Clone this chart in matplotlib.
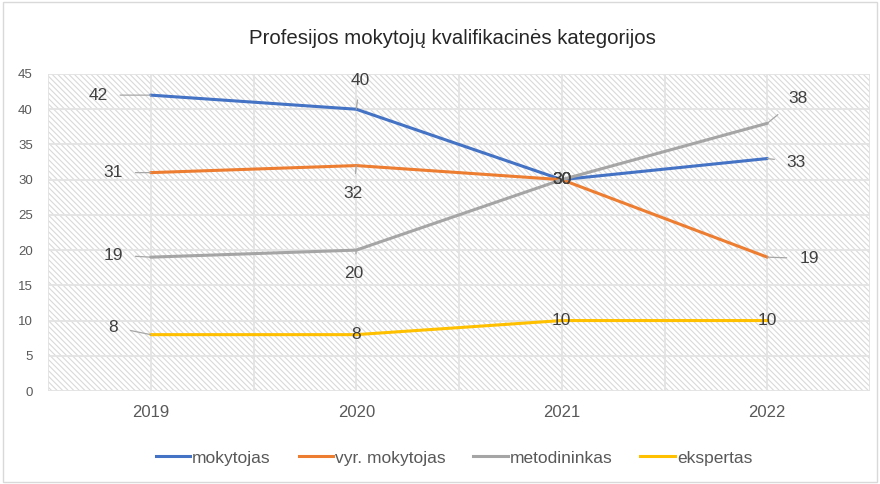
import matplotlib
matplotlib.use("Agg")
import matplotlib.pyplot as plt
from matplotlib.patches import Rectangle
from matplotlib.lines import Line2D

plt.rcParams["font.family"] = ["Liberation Sans", "DejaVu Sans"]
plt.rcParams["hatch.linewidth"] = 0.8

years = ["2019", "2020", "2021", "2022"]
series_names = ["mokytojas", "vyr. mokytojas", "metodininkas", "ekspertas"]
mokytojas = [42, 40, 30, 33]
vyr_mokytojas = [31, 32, 30, 19]
metodininkas = [19, 20, 30, 38]
ekspertas = [8, 8, 10, 10]
colors = ["#4472C4", "#ED7D31", "#A5A5A5", "#FFC000"]

# label offsets in points (dx, dy) per point; None = label centred on the point
label_offsets = [
    [(-38, 0), (3, 21), None, (21, -2.5)],
    [(-27, 0), (-2, -20), None, (30, -1)],
    [(-27, 1.5), (-1.5, -17), None, (22, 18)],
    [(-27, 5.5), None, None, None],
]

fig = plt.figure(figsize=(8.8, 4.84), dpi=100)
ax = fig.add_axes([48 / 880, 1 - 391 / 484, 822 / 880, 317 / 484])

ax.add_patch(Rectangle((0, 0), 1, 1, transform=ax.transAxes, fill=False,
                       hatch="\\\\\\\\\\\\", edgecolor="#d9d9d9", linewidth=0, zorder=0))

x = list(range(len(years)))
ax.set_xlim(-0.5, 3.5)
ax.set_ylim(0, 45)
ax.set_yticks(range(0, 46, 5))
for v in range(0, 46, 5):
    ax.axhline(v, color="#e3e3e3", lw=1.3, zorder=1)
for i in range(9):
    ax.axvline(-0.5 + i * 0.5, color="#e3e3e3", lw=1.3, zorder=1)

all_series = [mokytojas, vyr_mokytojas, metodininkas, ekspertas]
for vals, col, name in zip(all_series, colors, series_names):
    ax.plot(x, vals, color=col, lw=2.2, label=name, zorder=3, solid_capstyle="round")

for vals, offs in zip(all_series, label_offsets):
    for xi, v, off in zip(x, vals, offs):
        if off is None:
            ax.text(xi, v, str(v), ha="center", va="center", fontsize=12.5,
                    color="#404040", zorder=5)
        else:
            ax.annotate(str(v), (xi, v), xytext=off, textcoords="offset points",
                        ha="center", va="center", fontsize=12.5, color="#404040",
                        arrowprops=dict(arrowstyle="-", color="#a6a6a6", lw=0.9,
                                        shrinkA=7, shrinkB=0), zorder=5)

for s in ax.spines.values():
    s.set_visible(False)
ax.set_xticks(x)
ax.set_xticklabels(years, fontsize=12, color="#595959")
ax.tick_params(axis="x", length=0, pad=10)
ax.tick_params(axis="y", length=0, pad=11, labelsize=9.5, labelcolor="#595959")

fig.text(452 / 880, 1 - 38 / 484, "Profesijos mokytojų kvalifikacinės kategorijos",
         ha="center", va="center", fontsize=14.7, color="#262626")

handles = [Line2D([], [], color=c, lw=2.2) for c in colors]
fig.legend(handles, series_names, loc="center", bbox_to_anchor=(454 / 880, 1 - 458 / 484),
           ncol=4, frameon=False, fontsize=12.5, handlelength=2.0, handletextpad=0.1,
           columnspacing=1.6, labelcolor="#595959")

fig.add_artist(Rectangle((0.003, 0.005), 0.994, 0.99, transform=fig.transFigure,
                         fill=False, edgecolor="#d9d9d9", lw=1))

fig.savefig("out.png", dpi=100)
